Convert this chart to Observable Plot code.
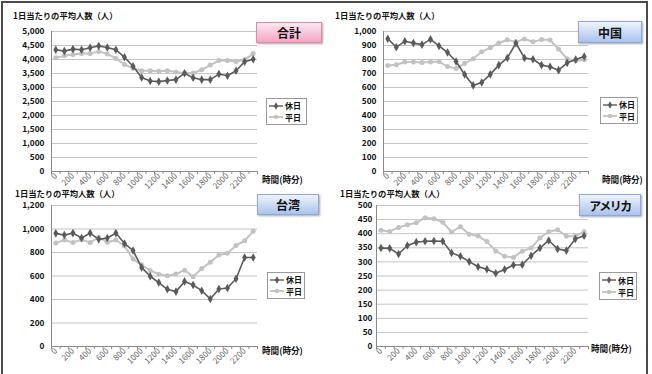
<!DOCTYPE html>
<html>
<head>
<meta charset="utf-8">
<script src="https://cdn.jsdelivr.net/npm/d3@7"></script>
<script src="https://cdn.jsdelivr.net/npm/@observablehq/plot@0.6"></script>
<style>
  body { margin: 0; background: #fff; }
  #wrap { position: relative; width: 652px; height: 374px; overflow: hidden; background: #fff;
          font-family: "Noto Sans CJK JP", "Noto Sans", sans-serif; }
  #frame { position: absolute; left: 1px; top: 1px; width: 643px; height: 420px; border: 2px solid #4a4a4a; }
  .panel { position: absolute; }
  .ytitle, .xtitle { position: absolute; font-size: 8.3px; font-weight: bold; line-height: 10px; color: #111; white-space: nowrap; }
  .xtitle { font-size: 8.6px; }
  .tag { position: absolute; box-sizing: border-box; display: flex; align-items: center; justify-content: center;
         font-size: 12px; font-weight: bold; color: #111; box-shadow: 1px 1px 2px rgba(0,0,0,0.35); }
  .tag.pink { background: linear-gradient(#fde8f0, #f5a6c3); border: 1px solid #e08aaa; }
  .tag.blue { background: linear-gradient(#eef4fd, #a9c3ee); border: 1px solid #8ea7d4; }
  .legend { position: absolute; box-sizing: border-box; border: 1px solid #9a9a9a; background: #fff;
            display: flex; flex-direction: column; justify-content: space-around; padding: 1px 0 1px 1px; }
  .legend .row { display: flex; align-items: center; height: 11px; font-size: 8px; font-weight: bold; color: #111; line-height: 11px; }
  .legend svg { margin-right: 1px; }
</style>
</head>
<body>
<div id="wrap"><div id="frame"></div></div>
<script>
// Hour of day (hhmm), one value per hour
const hours = [0, 100, 200, 300, 400, 500, 600, 700, 800, 900, 1000, 1100,
               1200, 1300, 1400, 1500, 1600, 1700, 1800, 1900, 2000, 2100, 2200, 2300];
// Labelled hours on the category axis
const xTickLabels = [0, 200, 400, 600, 800, 1000, 1200, 1400, 1600, 1800, 2000, 2200];
// Category boundaries (tick marks between hours)
const xBounds = [-50, 50, 150, 250, 350, 450, 550, 650, 750, 850, 950, 1050, 1150,
                 1250, 1350, 1450, 1550, 1650, 1750, 1850, 1950, 2050, 2150, 2250, 2350];

const seriesNames = ["休日", "平日"];
const panelNames = ["合計", "中国", "台湾", "アメリカ"];
const yTitle = "1日当たりの平均人数（人）";
const xTitle = "時間(時分)";

// Average visitors per day, by hour
const totalHoliday = [4350, 4300, 4370, 4350, 4420, 4480, 4430, 4350, 4080, 3760, 3360, 3230,
                      3210, 3250, 3280, 3510, 3350, 3280, 3280, 3480, 3420, 3600, 3920, 4010];
const totalWeekday = [4060, 4130, 4180, 4210, 4210, 4290, 4200, 4040, 3820, 3690, 3600, 3600,
                      3580, 3600, 3550, 3520, 3520, 3630, 3800, 3960, 3960, 3930, 3990, 4210];
const chinaHoliday = [948, 888, 930, 917, 906, 944, 897, 850, 786, 693, 615, 636,
                      694, 760, 811, 916, 811, 802, 760, 748, 724, 776, 800, 822];
const chinaWeekday = [758, 763, 782, 782, 778, 782, 785, 750, 735, 773, 806, 855,
                      884, 918, 941, 926, 947, 927, 942, 939, 873, 806, 790, 799];
const taiwanHoliday = [963, 949, 965, 923, 965, 912, 923, 965, 877, 817, 673, 598,
                       544, 487, 467, 554, 523, 475, 404, 490, 498, 577, 757, 757];
const taiwanWeekday = [880, 906, 886, 909, 886, 929, 888, 906, 855, 744, 695, 646,
                       615, 602, 616, 650, 593, 664, 716, 778, 794, 860, 900, 980];
const usHoliday = [349, 348, 328, 358, 370, 373, 374, 373, 332, 320, 301, 283,
                   274, 260, 273, 289, 290, 322, 349, 376, 346, 340, 381, 393];
const usWeekday = [412, 408, 422, 432, 439, 457, 453, 441, 406, 425, 398, 392,
                   372, 339, 320, 316, 338, 349, 385, 407, 414, 391, 391, 407];

// Y axis ticks for each panel
const totalTicks = [0, 500, 1000, 1500, 2000, 2500, 3000, 3500, 4000, 4500, 5000];
const chinaTicks = [0, 100, 200, 300, 400, 500, 600, 700, 800, 900, 1000];
const taiwanTicks = [0, 200, 400, 600, 800, 1000, 1200];
const usTicks = [0, 50, 100, 150, 200, 250, 300, 350, 400, 450, 500];

const HOLIDAY_COLOR = "#5a5a5a";
const WEEKDAY_COLOR = "#c2c2c2";

const panels = [
  {name: panelNames[0], holiday: totalHoliday, weekday: totalWeekday, ticks: totalTicks,
   left: 0, top: 0, ml: 51, mr: 69, mt: 31, mb: 16, pad: 7, tone: "pink",
   tag: [256, 22, 66, 21], legend: [266, 98, 41, 27], ytitle: [13, 10], xtitle: [262, 174]},
  {name: panelNames[1], holiday: chinaHoliday, weekday: chinaWeekday, ticks: chinaTicks,
   left: 326, top: 0, ml: 57, mr: 64, mt: 31, mb: 16, pad: 7, tone: "blue",
   tag: [578, 21, 64, 22], legend: [600, 97, 38, 27], ytitle: [335, 10], xtitle: [602, 174]},
  {name: panelNames[2], holiday: taiwanHoliday, weekday: taiwanWeekday, ticks: taiwanTicks,
   left: 0, top: 187, ml: 51, mr: 69, mt: 18, mb: 28, pad: 7, tone: "blue",
   tag: [257, 194, 62, 21], legend: [267, 272, 38, 27], ytitle: [15, 188], xtitle: [262, 345]},
  {name: panelNames[3], holiday: usHoliday, weekday: usWeekday, ticks: usTicks,
   left: 326, top: 187, ml: 50, mr: 64, mt: 18, mb: 28, pad: 4, tone: "blue",
   tag: [579, 194, 62, 22], legend: [599, 272, 38, 28], ytitle: [340, 188], xtitle: [591, 343]}
];

const wrap = document.getElementById("wrap");

function legendSwatch(color, symbol) {
  const ns = "http://www.w3.org/2000/svg";
  const svg = document.createElementNS(ns, "svg");
  svg.setAttribute("width", 16);
  svg.setAttribute("height", 8);
  const line = document.createElementNS(ns, "line");
  line.setAttribute("x1", 1); line.setAttribute("x2", 15);
  line.setAttribute("y1", 4); line.setAttribute("y2", 4);
  line.setAttribute("stroke", color);
  line.setAttribute("stroke-width", symbol === "diamond" ? 1.4 : 1.8);
  svg.appendChild(line);
  const mark = document.createElementNS(ns, "path");
  mark.setAttribute("d", d3.symbol(symbol === "diamond" ? d3.symbolDiamond : d3.symbolCircle, 16)());
  mark.setAttribute("transform", "translate(8,4)");
  mark.setAttribute("fill", color);
  svg.appendChild(mark);
  return svg;
}

for (const p of panels) {
  const w = 326, h = 187;
  const rows = (vals, s) => hours.map((hr, i) => ({hour: hr, value: vals[i], series: s}));
  const hd = rows(p.holiday, seriesNames[0]);
  const wk = rows(p.weekday, seriesNames[1]);
  const ymax = p.ticks[p.ticks.length - 1];

  const chart = Plot.plot({
    width: w, height: h,
    marginLeft: p.ml, marginRight: p.mr, marginTop: p.mt, marginBottom: p.mb,
    style: {overflow: "visible", background: "transparent", fontFamily: "'Noto Sans CJK JP', sans-serif"},
    x: {domain: [-50, 2350]},
    y: {domain: [0, ymax]},
    marks: [
      Plot.gridY(p.ticks, {stroke: "#c4c4c4", strokeOpacity: 1}),
      Plot.ruleX([-50], {stroke: "#8a8a8a"}),
      Plot.ruleY([0], {stroke: "#8a8a8a"}),
      Plot.axisY(p.ticks, {tickSize: 0, tickPadding: p.pad, tickFormat: d3.format(","),
        fontSize: 8.3, fontWeight: "bold", fill: "#111", label: null}),
      Plot.axisX(xBounds, {tickSize: 3, tickFormat: () => "", stroke: "#8a8a8a", label: null}),
      Plot.axisX(xTickLabels, {tickSize: 0, tickRotate: -45, tickPadding: 3, tickFormat: d => String(d),
        fontSize: 8.3, fill: "#666", label: null}),
      Plot.line(wk, {x: "hour", y: "value", stroke: WEEKDAY_COLOR, strokeWidth: 2}),
      Plot.dot(wk, {x: "hour", y: "value", fill: WEEKDAY_COLOR, r: 2.5, symbol: "circle"}),
      Plot.line(hd, {x: "hour", y: "value", stroke: HOLIDAY_COLOR, strokeWidth: 1.6}),
      Plot.dot(hd, {x: "hour", y: "value", fill: HOLIDAY_COLOR, r: 2.6, symbol: "diamond"})
    ]
  });
  chart.classList.add("panel");
  chart.style.left = p.left + "px";
  chart.style.top = p.top + "px";
  wrap.appendChild(chart);

  const yt = document.createElement("div");
  yt.className = "ytitle";
  yt.textContent = yTitle;
  yt.style.left = p.ytitle[0] + "px";
  yt.style.top = p.ytitle[1] + "px";
  wrap.appendChild(yt);

  const xt = document.createElement("div");
  xt.className = "xtitle";
  xt.textContent = xTitle;
  xt.style.left = p.xtitle[0] + "px";
  xt.style.top = p.xtitle[1] + "px";
  wrap.appendChild(xt);

  const tag = document.createElement("div");
  tag.className = "tag " + p.tone;
  tag.textContent = p.name;
  tag.style.left = p.tag[0] + "px";
  tag.style.top = p.tag[1] + "px";
  tag.style.width = p.tag[2] + "px";
  tag.style.height = p.tag[3] + "px";
  if (p.name.length > 2) tag.style.letterSpacing = "-1.5px";
  wrap.appendChild(tag);

  const lg = document.createElement("div");
  lg.className = "legend";
  lg.style.left = p.legend[0] + "px";
  lg.style.top = p.legend[1] + "px";
  lg.style.width = p.legend[2] + "px";
  lg.style.height = p.legend[3] + "px";
  [[seriesNames[0], HOLIDAY_COLOR, "diamond"], [seriesNames[1], WEEKDAY_COLOR, "circle"]].forEach(([label, color, sym]) => {
    const row = document.createElement("div");
    row.className = "row";
    row.appendChild(legendSwatch(color, sym));
    const t = document.createElement("span");
    t.textContent = label;
    row.appendChild(t);
    lg.appendChild(row);
  });
  wrap.appendChild(lg);
}
</script>
</body>
</html>
